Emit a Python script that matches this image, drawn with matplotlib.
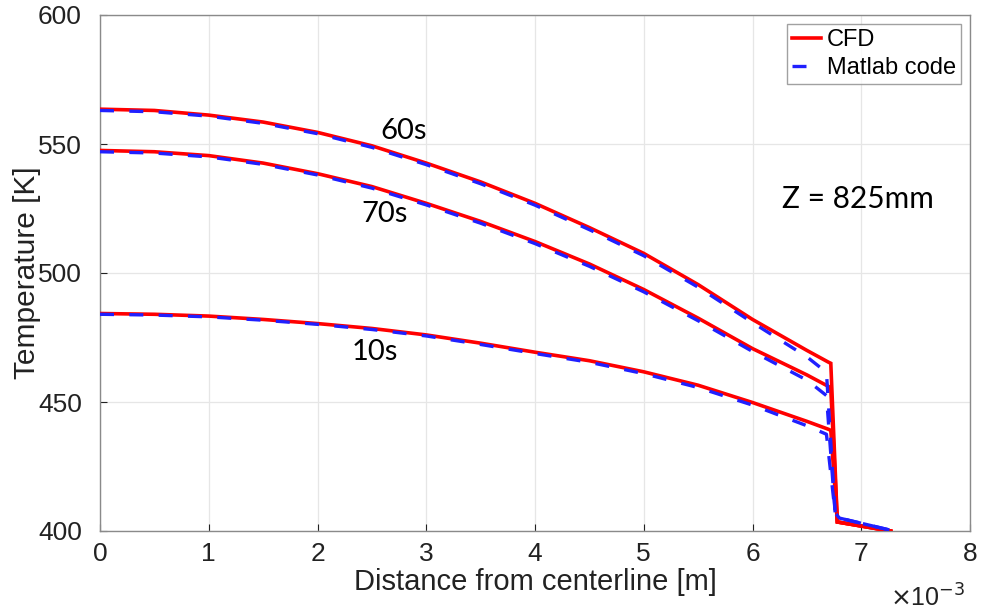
import matplotlib
matplotlib.use("Agg")
import matplotlib.pyplot as plt

# ---- data (x in m, T in K) ----
x_cfd = [0.0, 0.5e-3, 1.0e-3, 1.5e-3, 2.0e-3, 2.5e-3, 3.0e-3, 3.5e-3, 4.0e-3,
         4.5e-3, 5.0e-3, 5.5e-3, 6.0e-3, 6.5e-3, 6.70e-3, 6.72e-3, 6.78e-3, 7.27e-3]
cfd_60s = [563.5, 563.0, 561.2, 558.5, 554.5, 549.3, 542.6, 535.3, 527.0,
           517.6, 507.6, 495.5, 482.0, 470.0, 465.4, 465.0, 403.5, 400.0]
cfd_70s = [547.5, 547.0, 545.5, 542.6, 538.5, 533.5, 527.0, 520.0, 512.2,
           503.5, 493.6, 482.5, 470.7, 460.5, 456.0, 455.0, 403.5, 400.0]
cfd_10s = [484.3, 484.0, 483.3, 482.0, 480.4, 478.5, 476.0, 472.8, 469.3,
           466.0, 461.7, 456.5, 449.8, 442.5, 439.4, 439.0, 403.5, 400.0]

x_mat = [0.0, 0.5e-3, 1.0e-3, 1.5e-3, 2.0e-3, 2.5e-3, 3.0e-3, 3.5e-3, 4.0e-3,
         4.5e-3, 5.0e-3, 5.5e-3, 6.0e-3, 6.5e-3, 6.68e-3, 6.76e-3, 6.80e-3, 7.27e-3]
mat_60s = [563.0, 562.5, 560.8, 558.0, 554.0, 548.7, 542.0, 534.6, 526.3,
           516.8, 506.7, 494.5, 480.8, 467.5, 461.5, 407.0, 405.0, 400.3]
mat_70s = [547.0, 546.5, 545.0, 542.1, 538.0, 532.9, 526.4, 519.3, 511.4,
           502.6, 492.7, 481.5, 469.6, 458.5, 452.5, 407.0, 405.0, 400.3]
mat_10s = [484.0, 483.7, 483.0, 481.7, 480.1, 478.1, 475.6, 472.3, 468.8,
           465.4, 461.0, 455.6, 448.8, 440.8, 437.5, 407.0, 405.0, 400.3]

x_ticks = [0, 1, 2, 3, 4, 5, 6, 7, 8]
y_ticks = [400, 450, 500, 550, 600]
curve_labels = ["60s", "70s", "10s"]

plt.rcParams['font.family'] = ['Liberation Sans', 'DejaVu Sans']

fig = plt.figure(figsize=(9.82, 6.14), dpi=100)
ax = fig.add_axes([100/982, 1-531/614, (970-100)/982, (531-15)/614])

red = '#ff0000'
blue = '#2020ff'
lw_r = 2.6
lw_b = 2.4
first = True
for c in [cfd_60s, cfd_70s, cfd_10s]:
    ax.plot(x_cfd, c, color=red, lw=lw_r, solid_joinstyle='miter',
            label='CFD' if first else None, zorder=3)
    first = False
for i, m in enumerate([mat_60s, mat_70s, mat_10s]):
    ax.plot(x_mat, m, color=blue, lw=lw_b, dashes=(4.2, 4.6),
            label='Matlab code' if i == 0 else None, zorder=4)

ax.set_xlim(0, 8e-3)
ax.set_ylim(400, 600)
ax.set_xticks([t * 1e-3 for t in x_ticks])
ax.set_xticklabels([str(t) for t in x_ticks])
ax.set_yticks(y_ticks)
ax.set_yticklabels([str(t) for t in y_ticks])
ax.tick_params(axis='both', direction='in', length=5, width=0.8, colors='#222222',
               labelsize=19, pad=8, top=False, right=False)
ax.tick_params(axis='y', pad=13)
for s in ax.spines.values():
    s.set_color('#8a8a8a')
    s.set_linewidth(1.0)
ax.grid(True, color='#e6e6e6', lw=0.9)
ax.set_axisbelow(True)

ax.set_xlabel('Distance from centerline [m]', fontsize=21, color='#222222')
ax.set_ylabel('Temperature [K]', fontsize=21.5, color='#222222')
ax.xaxis.set_label_coords(0.5, -(582 - 531) / 516, transform=ax.transAxes)
ax.yaxis.set_label_coords(-(100 - 27) / 870, 0.5, transform=ax.transAxes)
ax.xaxis.label.set_va('center')
ax.yaxis.label.set_va('center')

fig.text(965/982, 1-598/614, r'$\times$10$^{-3}$', fontsize=18, color='#222222',
         ha='right', va='center')

ann_font = ['Lato', 'DejaVu Sans']
ax.text(2.79e-3, 555.0, curve_labels[0], fontsize=21, family=ann_font, ha='center', va='center')
ax.text(2.62e-3, 522.9, curve_labels[1], fontsize=21, family=ann_font, ha='center', va='center')
ax.text(2.53e-3, 469.4, curve_labels[2], fontsize=21, family=ann_font, ha='center', va='center')
ax.text(6.97e-3, 528.7, 'Z = 825mm', fontsize=21.5, family=ann_font, ha='center', va='center')

leg = ax.legend(loc='upper right', fontsize=17, frameon=True, fancybox=False,
                handlelength=1.2, handletextpad=0.25, borderpad=0.22,
                labelspacing=0.25, borderaxespad=0.38)
leg.get_frame().set_edgecolor('#8a8a8a')
leg.get_frame().set_linewidth(1.0)

fig.savefig('out.png', dpi=100)
